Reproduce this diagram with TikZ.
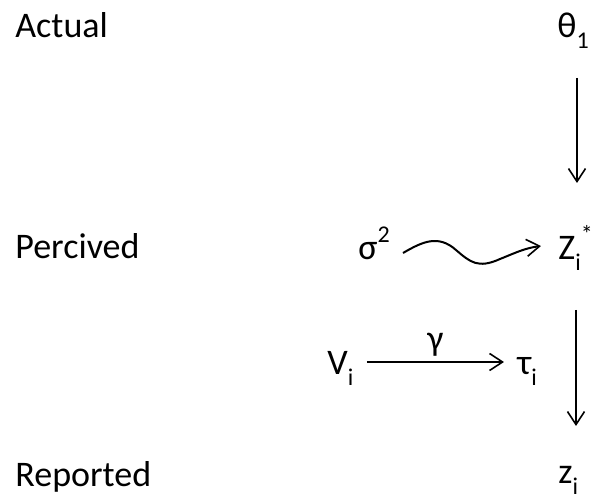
\documentclass[tikz,border=0pt]{standalone}
\usepackage{fontspec}
\setmainfont{Carlito}
\usetikzlibrary{arrows.meta}
\newcommand\mysub[1]{\raisebox{-0.3em}{\fontsize{12}{12}\selectfont #1}}
\newcommand\mysup[1]{\raisebox{0.5em}{\fontsize{12}{12}\selectfont #1}}
\tikzset{
  lbl/.style={anchor=base west, inner sep=0pt, font=\fontsize{18}{20}\selectfont},
  arr/.style={line width=0.8pt, -{Straight Barb[length=6.5pt, width=8.5pt, line width=0.8pt]}},
}
\begin{document}
\begin{tikzpicture}[x=0.5pt,y=-0.5pt]
\useasboundingbox (0,0) rectangle (591,498);
% row labels
\node[lbl] (actual) at (15,38) {Actual};
\node[lbl] (perc) at (15,258) {Percived};
\node[lbl] (rep) at (15,487) {Reported};
% variables
\node[lbl] (theta) at (557,38) {θ\mysub{1}};
\node[lbl] (sig) at (358,260) {σ\mysup{2}};
\node[lbl] (Zs) at (558,260) {Z\mysub{i}\mysup{*}};
\node[lbl] (V) at (327,375) {V\mysub{i}};
\node[lbl] (tau) at (517,375) {τ\mysub{i}};
\node[lbl] (z) at (558,484) {z\mysub{i}};
% connector end points
\coordinate (a1s) at (577,78);
\coordinate (a1e) at (577,183);
\coordinate (a2s) at (576,310);
\coordinate (a2e) at (576,426);
\coordinate (ws) at (403,253);
\coordinate (we) at (541,246);
\coordinate (gs) at (367,362);
\coordinate (ge) at (504,362);
% connectors
\draw[arr] (a1s) -- (a1e);
\draw[arr] (a2s) -- (a2e);
\draw[arr] (gs) -- node[above=2.5pt, inner sep=0pt, font=\fontsize{18}{20}\selectfont] (gam) {γ} (ge);
\draw[arr, line width=1pt] (ws) .. controls (422,242) and (438,234) .. (456,250)
  .. controls (470,262) and (478,269) .. (500,259)
  .. controls (515,253) and (525,248) .. (we);
\end{tikzpicture}
\end{document}
